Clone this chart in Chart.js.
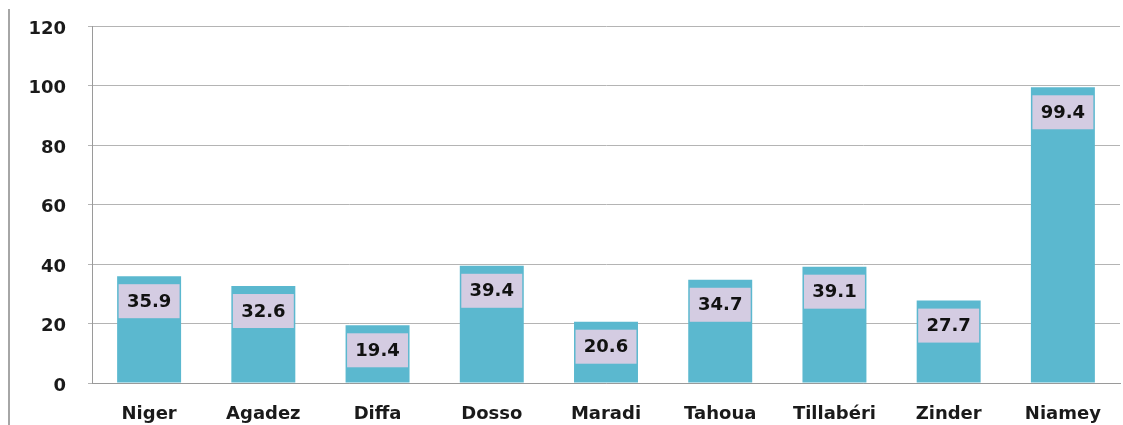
<!DOCTYPE html>
<html>
<head>
<meta charset="utf-8">
<script src="https://cdn.jsdelivr.net/npm/chart.js@4/dist/chart.umd.min.js"></script>
<style>
  html, body { margin: 0; padding: 0; background: #fff; }
  #wrap { position: relative; width: 1123px; height: 425px; }
  #edge { position: absolute; left: 8px; top: 9px; width: 0; height: 416px; border-left: 2px solid #a6a6a6; }
</style>
</head>
<body>
<div id="wrap">
  <div id="edge"></div>
  <canvas id="chart" width="1123" height="425"></canvas>
</div>
<script>
var regions = ["Niger", "Agadez", "Diffa", "Dosso", "Maradi", "Tahoua", "Tillabéri", "Zinder", "Niamey"];
var values = [35.9, 32.6, 19.4, 39.4, 20.6, 34.7, 39.1, 27.7, 99.4];
var yTicks = [0, 20, 40, 60, 80, 100, 120];

var fontFamily = "'DejaVu Sans', sans-serif";

// value boxes drawn just under the top of each bar
const valueBoxes = {
    id: "valueBoxes",
    afterDatasetsDraw(chart) {
        let ctx = chart.ctx;
        let meta = chart.getDatasetMeta(0);
        ctx.save();
        ctx.font = "bold 18px " + fontFamily;
        ctx.textAlign = "center";
        ctx.textBaseline = "middle";
        meta.data.forEach(function (bar, i) {
            let w = bar.width - 3;
            let top = bar.y + 8;
            let h = 34;
            ctx.fillStyle = "#d4cce2";
            ctx.fillRect(bar.x - w / 2, top, w, h);
            ctx.fillStyle = "#111111";
            ctx.fillText(values[i].toFixed(1), bar.x, top + h / 2 + 1);
        });
        ctx.restore();
    }
};

new Chart(document.getElementById("chart"), {
    type: "bar",
    data: {
        labels: regions,
        datasets: [{
            data: values,
            backgroundColor: "#5bb8cf",
            borderWidth: 0,
            categoryPercentage: 1,
            barPercentage: 0.56
        }]
    },
    options: {
        responsive: false,
        animation: false,
        plugins: { legend: { display: false }, tooltip: { enabled: false } },
        layout: { padding: { top: 26, right: 3, left: 0, bottom: 0 } },
        scales: {
            x: {
                grid: { display: false },
                border: { color: "#9a9a9a", width: 1 },
                ticks: {
                    color: "#1a1a1a",
                    font: { family: fontFamily, size: 18, weight: "bold" },
                    padding: 13
                },
                afterFit(scale) { scale.height = 42; scale.paddingLeft = 0; scale.paddingRight = 0; }
            },
            y: {
                min: 0,
                max: 120,
                afterBuildTicks(scale) { scale.ticks = yTicks.map(v => ({ value: v })); },
                grid: { color: "#b4b4b4", lineWidth: 1, tickLength: 4 },
                border: { color: "#9a9a9a", width: 1 },
                ticks: {
                    color: "#1a1a1a",
                    font: { family: fontFamily, size: 18, weight: "bold" },
                    padding: 22,
                    labelOffset: 3
                },
                afterFit(scale) { scale.width = 92; scale.paddingTop = 0; scale.paddingBottom = 0; }
            }
        }
    },
    plugins: [valueBoxes]
});
</script>
</body>
</html>
